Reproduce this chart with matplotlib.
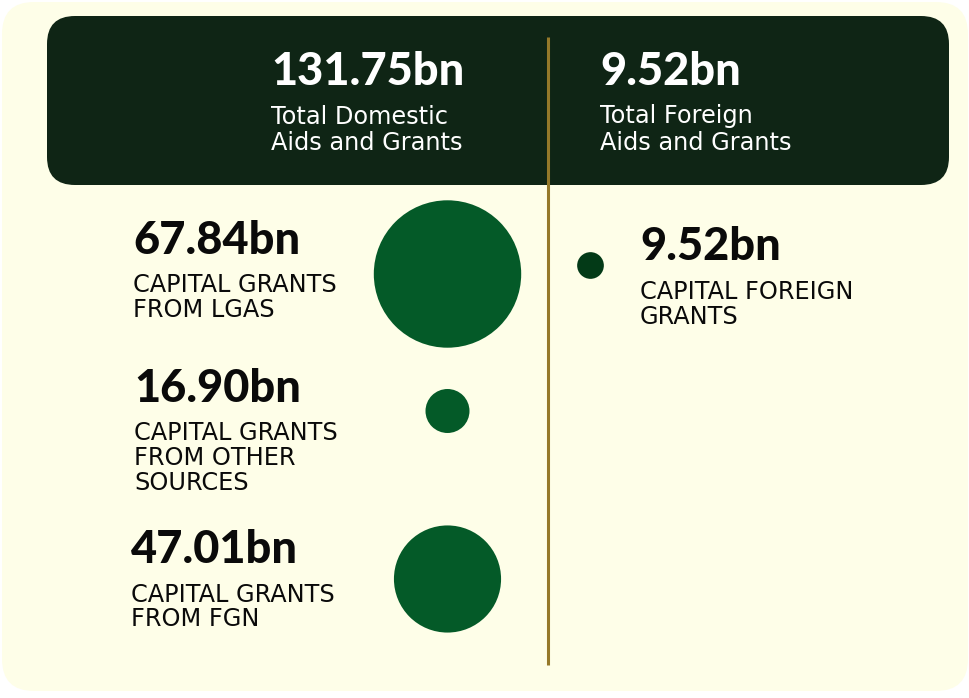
import matplotlib.pyplot as plt
from matplotlib.patches import FancyBboxPatch, Circle

# values in billions, read from the infographic
domestic_labels = ["CAPITAL GRANTS\nFROM LGAS",
                   "CAPITAL GRANTS\nFROM OTHER\nSOURCES",
                   "CAPITAL GRANTS\nFROM FGN"]
domestic_values = [67.84, 16.90, 47.01]
foreign_labels = ["CAPITAL FOREIGN\nGRANTS"]
foreign_values = [9.52]
header_labels = ["Total Domestic\nAids and Grants", "Total Foreign\nAids and Grants"]

# layout (pixels, y grows downward)
W, H = 969, 698
domestic_text_pos = [(133, 254), (134, 402), (131, 563)]
domestic_bubble_pos = [(447.5, 274), (447.5, 411), (447.5, 579)]
foreign_text_pos = [(640, 260.5)]
foreign_bubble_pos = [(590.5, 265.5)]
header_text_pos = [(271, 85), (600, 85)]

CREAM = "#fefee8"
DARK = "#0f2515"
GOLD = "#95792a"
GREEN = "#045a28"
GREEN_DARK = "#033a17"
NUM_FONT = "Lato"
BODY_FONT = "DejaVu Sans"
NUM_SIZE = 32.5
BODY_SIZE = 17.3


def bubble_radius(v):
    # power scale, largest bubble ~74px
    return 73.7 * (v / max(domestic_values)) ** 0.87


fig = plt.figure(figsize=(W / 100, H / 100), dpi=100)
fig.patch.set_facecolor("white")
ax = fig.add_axes([0, 0, 1, 1])
ax.set_xlim(0, W)
ax.set_ylim(H, 0)
ax.axis("off")

ax.add_patch(FancyBboxPatch((2, 2), 966, 689, boxstyle="round,pad=0,rounding_size=32",
                            fc=CREAM, ec="none"))
ax.add_patch(FancyBboxPatch((47, 16), 902, 169, boxstyle="round,pad=0,rounding_size=28",
                            fc=DARK, ec="none"))
ax.plot([548.5, 548.5], [37, 665], color=GOLD, lw=2.2, solid_capstyle="butt")


def block(x, y, value, label, color, step):
    ax.text(x, y, f"{value:.2f}bn", fontsize=NUM_SIZE, fontweight="black",
            family=NUM_FONT, color=color, va="baseline", ha="left")
    for i, line in enumerate(label.split("\n")):
        ax.text(x, y + 38.5 + i * step, line, fontsize=BODY_SIZE, family=BODY_FONT,
                color=color, va="baseline", ha="left")


# header totals
totals = [sum(domestic_values), sum(foreign_values)]
for (x, y), v, lab in zip(header_text_pos, totals, header_labels):
    block(x, y, v, lab, "white", 26)

for (x, y), v, lab in zip(domestic_text_pos, domestic_values, domestic_labels):
    block(x, y, v, lab, "#0a0a0a", 24.8)
for (x, y), v in zip(domestic_bubble_pos, domestic_values):
    ax.add_patch(Circle((x, y), bubble_radius(v), fc=GREEN, ec="none"))

for (x, y), v, lab in zip(foreign_text_pos, foreign_values, foreign_labels):
    block(x, y, v, lab, "#0a0a0a", 24.8)
for (x, y), v in zip(foreign_bubble_pos, foreign_values):
    ax.add_patch(Circle((x, y), bubble_radius(v), fc=GREEN_DARK, ec="none"))

fig.savefig("out.png", dpi=100, facecolor="white")
